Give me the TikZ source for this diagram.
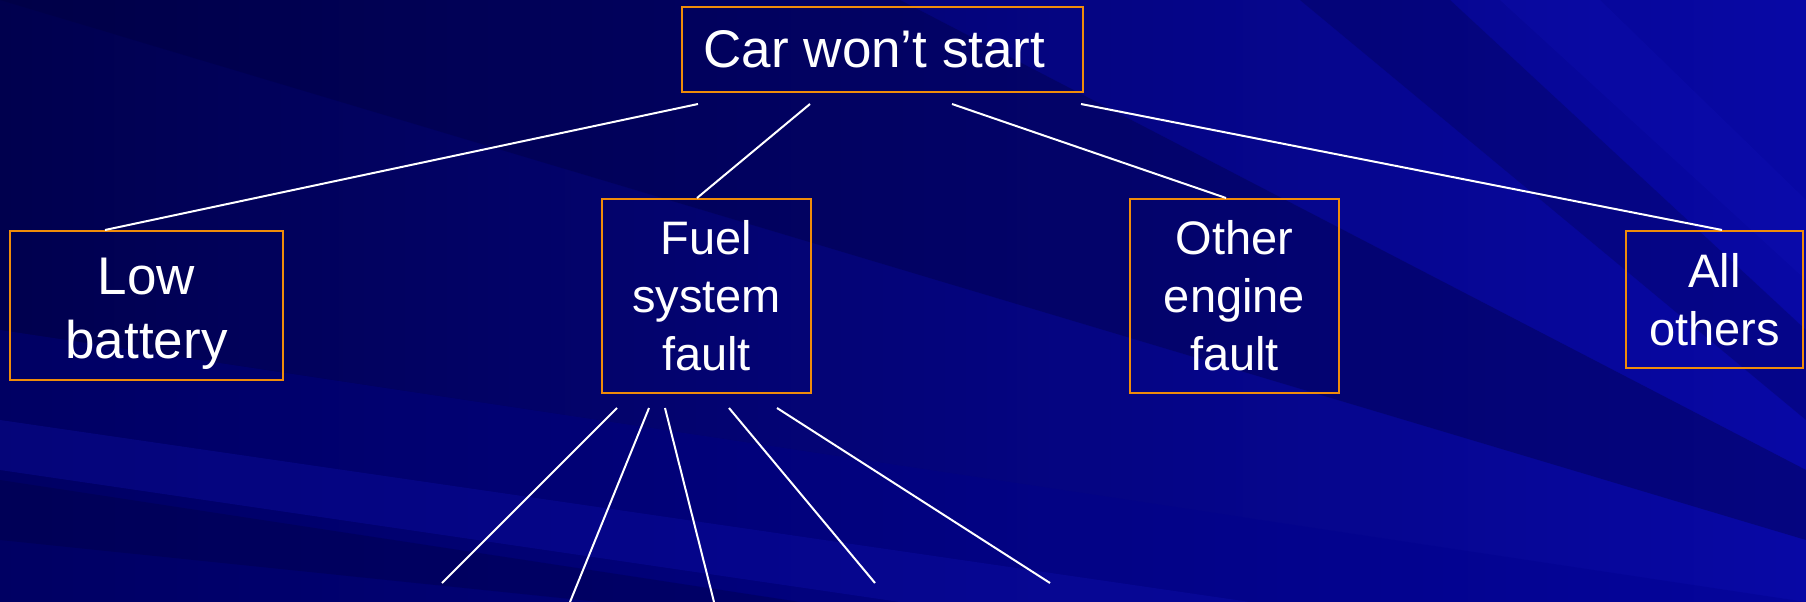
\documentclass[tikz,border=0pt]{standalone}
\usepackage{fontspec}
\setmainfont{Liberation Sans}
\definecolor{boxorange}{RGB}{240,140,10}
\definecolor{bgL}{RGB}{0,0,78}
\definecolor{bgR}{RGB}{8,8,165}
\definecolor{bgM}{RGB}{0,0,140}
\definecolor{streakD}{RGB}{0,0,60}
\definecolor{streakL}{RGB}{20,20,190}
\begin{document}
\begin{tikzpicture}[x=1pt,y=-1pt,
  box/.style={draw=boxorange, line width=2pt, inner sep=0pt, align=center, text=white},
  link/.style={draw=white, line width=2pt}]
\useasboundingbox (0,0) rectangle (1806,602);
% background
\shade[left color=bgL, right color=bgR] (0,0) rectangle (1806,602);
\fill[bgM, opacity=0.35] (0,330) -- (1806,602) -- (0,602) -- cycle;
\fill[streakD, opacity=0.35] (0,0) -- (900,0) -- (1806,470) -- (1806,540) -- cycle;
\fill[streakL, opacity=0.25] (0,420) -- (0,470) -- (900,602) -- (1250,602) -- cycle;
\fill[streakD, opacity=0.25] (1300,0) -- (1450,0) -- (1806,330) -- (1806,420) -- cycle;
\fill[streakL, opacity=0.2] (1500,0) -- (1600,0) -- (1806,200) -- (1806,280) -- cycle;
\fill[streakD, opacity=0.3] (0,480) -- (0,540) -- (600,602) -- (800,602) -- cycle;
% nodes
\node[box, minimum width=401pt, minimum height=85pt, font=\fontsize{53}{60}\selectfont] (top) at (882.5,49.5) {Car won’t start\hspace*{16pt}};
\node[box, minimum width=273pt, minimum height=149pt, font=\fontsize{53}{64}\selectfont] (low) at (146.5,305.5) {\rule{0pt}{53pt}Low\\battery};
\node[box, minimum width=209pt, minimum height=194pt, font=\fontsize{47}{58}\selectfont] (fuel) at (706.5,296) {Fuel\\system\\fault};
\node[box, minimum width=209pt, minimum height=194pt, font=\fontsize{47}{58}\selectfont] (other) at (1234.5,296) {Other\\engine\\fault};
\node[box, minimum width=177pt, minimum height=137pt, font=\fontsize{47}{58}\selectfont] (all) at (1714.5,299.5) {All\\others};
% free ends
\coordinate (t1) at ([xshift=17pt,yshift=-11pt]top.south west);
\coordinate (t2) at ([xshift=129pt,yshift=-11pt]top.south west);
\coordinate (t3) at ([xshift=271pt,yshift=-11pt]top.south west);
\coordinate (t4) at ([xshift=400pt,yshift=-11pt]top.south west);
\coordinate (f1) at ([xshift=16pt,yshift=-14pt]fuel.south west);
\coordinate (f2) at ([xshift=48pt,yshift=-14pt]fuel.south west);
\coordinate (f3) at ([xshift=64pt,yshift=-14pt]fuel.south west);
\coordinate (f4) at ([xshift=128pt,yshift=-14pt]fuel.south west);
\coordinate (f5) at ([xshift=176pt,yshift=-14pt]fuel.south west);
\coordinate (e1) at (442,583);
\coordinate (e2) at (570,602);
\coordinate (e3) at (714,602);
\coordinate (e4) at (875,583);
\coordinate (e5) at (1050,583);
% connectors
\draw[link] (t1) -- ([xshift=96pt]low.north west);
\draw[link] (t2) -- ([xshift=96pt]fuel.north west);
\draw[link] (t3) -- ([xshift=97pt]other.north west);
\draw[link] (t4) -- ([xshift=97pt]all.north west);
\draw[link] (f1) -- (e1);
\draw[link] (f2) -- (e2);
\draw[link] (f3) -- (e3);
\draw[link] (f4) -- (e4);
\draw[link] (f5) -- (e5);
\end{tikzpicture}
\end{document}
